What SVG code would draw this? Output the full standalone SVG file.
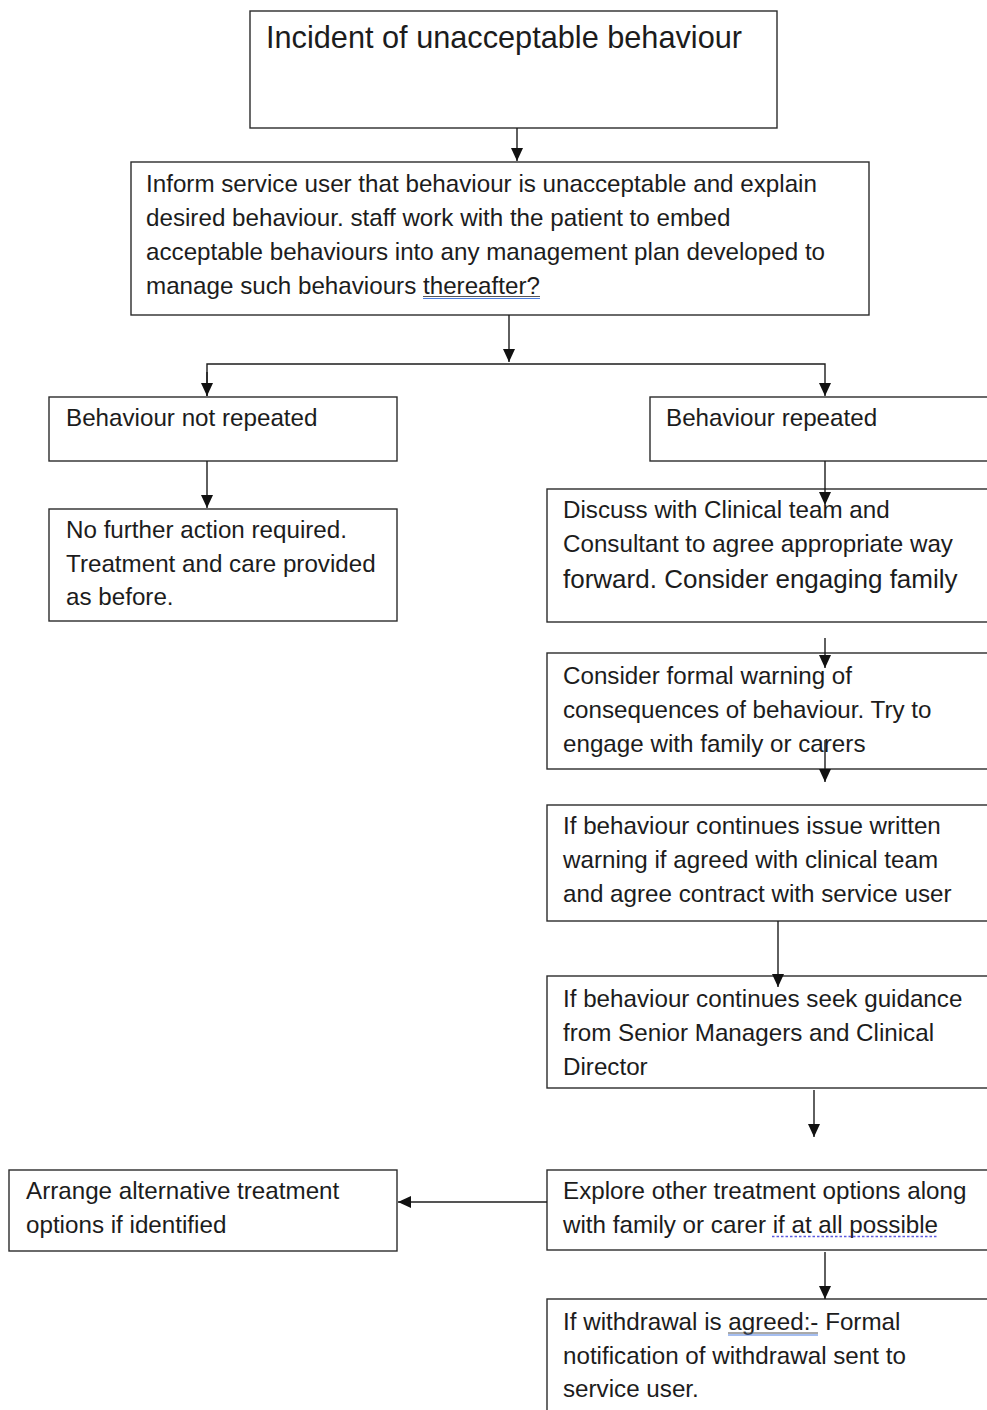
<svg xmlns="http://www.w3.org/2000/svg" width="987" height="1410" viewBox="0 0 987 1410">
<style>
.box{fill:#fff;stroke:#2b2b2b;stroke-width:1.4}
.t{font-family:"Liberation Sans",Arial,sans-serif;font-size:24.2px;fill:#1c1c1c}
.c{stroke:#1c1c1c;stroke-width:1.4;fill:none}
</style>
<defs>
<marker id="ah" viewBox="0 0 13 12" refX="13" refY="6" markerWidth="13" markerHeight="12" markerUnits="userSpaceOnUse" orient="auto">
<path d="M0,0 L13,6 L0,12 z" fill="#111"/>
</marker>
</defs>
<rect width="987" height="1410" fill="#fff"/>
<g id="n1"><rect class="box" x="250" y="11" width="527" height="117"/><text class="t" x="266" y="48" style="font-size:30.7px">Incident of unacceptable behaviour</text></g>
<g id="n2"><rect class="box" x="131" y="162" width="738" height="153"/>
<text class="t" x="146" y="192">Inform service user that behaviour is unacceptable and explain</text>
<text class="t" x="146" y="226">desired behaviour. staff work with the patient to embed</text>
<text class="t" x="146" y="260">acceptable behaviours into any management plan developed to</text>
<text class="t" x="146" y="294">manage such behaviours thereafter?</text>
<line x1="423" y1="296.5" x2="540" y2="296.5" stroke="#555" stroke-width="1"/>
<line x1="423" y1="298.5" x2="540" y2="298.5" stroke="#4a7de0" stroke-width="1"/>
</g>
<g id="n3"><rect class="box" x="49" y="397" width="348" height="64"/><text class="t" x="66" y="426">Behaviour not repeated</text></g>
<g id="n4"><rect class="box" x="650" y="397" width="345" height="64"/><text class="t" x="666" y="426">Behaviour repeated</text></g>
<g id="n5"><rect class="box" x="49" y="509" width="348" height="112"/>
<text class="t" x="66" y="538">No further action required.</text>
<text class="t" x="66" y="572">Treatment and care provided</text>
<text class="t" x="66" y="605">as before.</text></g>
<g id="n6"><rect class="box" x="547" y="489" width="448" height="133"/>
<text class="t" x="563" y="518">Discuss with Clinical team and</text>
<text class="t" x="563" y="552">Consultant to agree appropriate way</text>
<text class="t" x="563" y="588" style="font-size:26px">forward. Consider engaging family</text></g>
<g id="n7"><rect class="box" x="547" y="653" width="448" height="116"/>
<text class="t" x="563" y="684">Consider formal warning of</text>
<text class="t" x="563" y="718">consequences of behaviour. Try to</text>
<text class="t" x="563" y="752">engage with family or carers</text></g>
<g id="n8"><rect class="box" x="547" y="805" width="448" height="116"/>
<text class="t" x="563" y="834">If behaviour continues issue written</text>
<text class="t" x="563" y="868">warning if agreed with clinical team</text>
<text class="t" x="563" y="902">and agree contract with service user</text></g>
<g id="n9"><rect class="box" x="547" y="976" width="448" height="112"/>
<text class="t" x="563" y="1007">If behaviour continues seek guidance</text>
<text class="t" x="563" y="1041">from Senior Managers and Clinical</text>
<text class="t" x="563" y="1075">Director</text></g>
<g id="n10"><rect class="box" x="547" y="1170" width="448" height="80"/>
<text class="t" x="563" y="1199">Explore other treatment options along</text>
<text class="t" x="563" y="1233">with family or carer if at all possible</text>
<line x1="772" y1="1236.5" x2="937" y2="1236.5" stroke="#5a5ae0" stroke-width="1.6" stroke-dasharray="2.5,2"/></g>
<g id="n11"><rect class="box" x="9" y="1170" width="388" height="81"/>
<text class="t" x="26" y="1199">Arrange alternative treatment</text>
<text class="t" x="26" y="1233">options if identified</text></g>
<g id="n12"><rect class="box" x="547" y="1299" width="448" height="130"/>
<text class="t" x="563" y="1330">If withdrawal is agreed:- Formal</text>
<text class="t" x="563" y="1364">notification of withdrawal sent to</text>
<text class="t" x="563" y="1397">service user.</text>
<line x1="728" y1="1333" x2="818" y2="1333" stroke="#555" stroke-width="1"/>
<line x1="728" y1="1335" x2="818" y2="1335" stroke="#4a7de0" stroke-width="1"/></g>
<g id="connectors">
<line class="c" x1="517" y1="128" x2="517" y2="161" marker-end="url(#ah)"/>
<line class="c" x1="509" y1="315" x2="509" y2="362" marker-end="url(#ah)"/>
<polyline class="c" points="207,396 207,364 825,364 825,396" marker-end="url(#ah)"/>
<line class="c" x1="207" y1="372" x2="207" y2="396" marker-end="url(#ah)"/>
<line class="c" x1="207" y1="461" x2="207" y2="508" marker-end="url(#ah)"/>
<line class="c" x1="825" y1="461" x2="825" y2="505" marker-end="url(#ah)"/>
<line class="c" x1="825" y1="638" x2="825" y2="668" marker-end="url(#ah)"/>
<line class="c" x1="825" y1="740" x2="825" y2="782" marker-end="url(#ah)"/>
<line class="c" x1="778" y1="921" x2="778" y2="987" marker-end="url(#ah)"/>
<line class="c" x1="814" y1="1090" x2="814" y2="1137" marker-end="url(#ah)"/>
<line class="c" x1="547" y1="1202" x2="398" y2="1202" marker-end="url(#ah)"/>
<line class="c" x1="825" y1="1252" x2="825" y2="1299" marker-end="url(#ah)"/>
</g>
</svg>
